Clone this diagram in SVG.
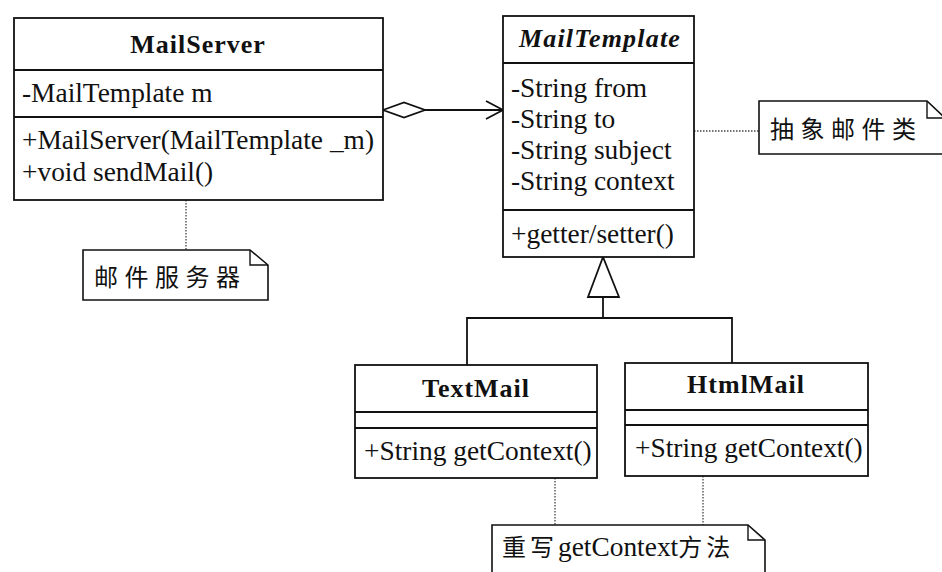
<svg xmlns="http://www.w3.org/2000/svg" width="942" height="572" viewBox="0 0 942 572">
<style>
.box{fill:#fff;stroke:#111;stroke-width:1.8}
.ln{stroke:#111;stroke-width:1.8;fill:none}
.dot{stroke:#444;stroke-width:1.3;stroke-dasharray:1.5 1.5;fill:none}
.t{font-family:"Liberation Serif","Times New Roman",serif;font-size:27.4px;fill:#111}
.title{font-family:"Liberation Serif","Times New Roman",serif;font-size:26px;font-weight:bold;fill:#111;text-anchor:middle;letter-spacing:1px}
.cjk{font-family:"Noto Sans CJK SC","Noto Sans",sans-serif;font-size:24px;fill:#111;letter-spacing:6.5px}
.note{fill:#fff;stroke:#111;stroke-width:1.6}
</style>
<rect width="942" height="572" fill="#fff"/>
<g id="connectors">
  <line class="dot" x1="186" y1="200" x2="186" y2="250"/>
  <line class="dot" x1="694" y1="131" x2="759" y2="131"/>
  <line class="dot" x1="555" y1="478" x2="555" y2="525"/>
  <line class="dot" x1="703" y1="476" x2="703" y2="525"/>
  <polygon class="box" points="383,110 404,102.5 425,110 404,117.5"/>
  <line class="ln" x1="425" y1="110" x2="503" y2="110"/>
  <polyline class="ln" points="486,101 503,110 486,119"/>
  <polygon class="box" points="603,257 588,297 619,297"/>
  <line class="ln" x1="603" y1="297" x2="603" y2="318"/>
  <polyline class="ln" points="467,365 467,318 732,318 732,363"/>
</g>
<g id="MailServer">
  <rect class="box" x="14" y="18" width="369" height="182"/>
  <line class="ln" x1="14" y1="70" x2="383" y2="70"/>
  <line class="ln" x1="14" y1="117" x2="383" y2="117"/>
  <text class="title" x="198" y="53">MailServer</text>
  <text class="t" x="22" y="102">-MailTemplate m</text>
  <text class="t" x="22" y="149">+MailServer(MailTemplate _m)</text>
  <text class="t" x="22" y="181">+void sendMail()</text>
</g>
<g id="MailTemplate">
  <rect class="box" x="503" y="16" width="191" height="241"/>
  <line class="ln" x1="503" y1="63" x2="694" y2="63"/>
  <line class="ln" x1="503" y1="210" x2="694" y2="210"/>
  <text class="title" x="600" y="47" font-style="italic" style="letter-spacing:1.2px">MailTemplate</text>
  <text class="t" x="511" y="97">-String from</text>
  <text class="t" x="511" y="128">-String to</text>
  <text class="t" x="511" y="159">-String subject</text>
  <text class="t" x="511" y="190">-String context</text>
  <text class="t" x="511" y="243">+getter/setter()</text>
</g>
<g id="TextMail">
  <rect class="box" x="355" y="365" width="242" height="113"/>
  <line class="ln" x1="355" y1="412" x2="597" y2="412"/>
  <line class="ln" x1="355" y1="428" x2="597" y2="428"/>
  <text class="title" x="476" y="397">TextMail</text>
  <text class="t" x="364" y="460">+String getContext()</text>
</g>
<g id="HtmlMail">
  <rect class="box" x="625" y="363" width="243" height="113"/>
  <line class="ln" x1="625" y1="410" x2="868" y2="410"/>
  <line class="ln" x1="625" y1="425" x2="868" y2="425"/>
  <text class="title" x="746" y="393">HtmlMail</text>
  <text class="t" x="635" y="457">+String getContext()</text>
</g>
<g id="note-server">
  <polygon class="note" points="83,250 250,250 268,265 268,300 83,300"/>
  <polyline class="ln" style="stroke-width:1.4" points="250,250 250,265 268,265"/>
  <text class="cjk" x="94" y="286">邮件服务器</text>
</g>
<g id="note-template">
  <polygon class="note" points="759,101 927,101 945,118 945,154 759,154"/>
  <polyline class="ln" style="stroke-width:1.4" points="927,101 927,118 945,118"/>
  <text class="cjk" x="770" y="138">抽象邮件类</text>
</g>
<g id="note-override">
  <polygon class="note" points="492,525 748,525 765,540 765,575 492,575"/>
  <polyline class="ln" style="stroke-width:1.4" points="748,525 748,540 765,540"/>
  <text x="502" y="556"><tspan class="cjk" style="letter-spacing:4px">重写</tspan><tspan class="t">getContext</tspan><tspan class="cjk" style="letter-spacing:4px">方法</tspan></text>
</g>
</svg>
